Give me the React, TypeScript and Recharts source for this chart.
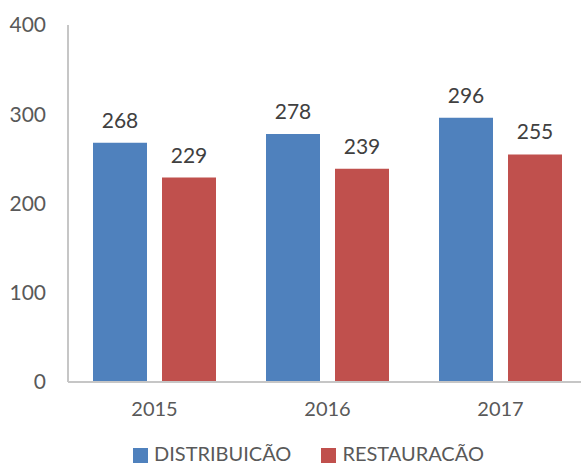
import { BarChart, Bar, XAxis, YAxis, Legend, LabelList } from 'recharts'

const anos = ['2015', '2016', '2017']
const distribuicao = [268, 278, 296]
const restauracao = [229, 239, 255]
const yTicks = [0, 100, 200, 300, 400]

const data = anos.map((ano, i) => ({
  ano,
  distribuicao: distribuicao[i],
  restauracao: restauracao[i],
}))

const FONT = 'Lato, "Open Sans", sans-serif'

export default function App() {
  return (
    <div style={{ position: 'absolute', left: 0, top: 0, width: 581, height: 466, background: '#fff', fontFamily: FONT, overflow: 'hidden' }}>
      <BarChart
        width={581}
        height={466}
        data={data}
        margin={{ top: 25, right: -6, left: 0, bottom: 0 }}
        barGap={15}
        barCategoryGap="14%"
        style={{ overflow: 'visible' }}
      >
        <XAxis
          dataKey="ano"
          axisLine={{ stroke: '#c6c6c6', strokeWidth: 2 }}
          tickLine={false}
          tickSize={0}
          tickMargin={20}
          height={52}
          tick={{ fill: '#595959', fontSize: 20, fontFamily: FONT }}
        />
        <YAxis
          domain={[0, 400]}
          ticks={yTicks}
          width={68}
          axisLine={{ stroke: '#c6c6c6', strokeWidth: 2 }}
          tickLine={false}
          tickSize={0}
          tickMargin={22}
          tick={{ fill: '#595959', fontSize: 21, fontFamily: FONT }}
        />
        <Legend
          verticalAlign="bottom"
          align="center"
          iconType="square"
          iconSize={15}
          height={32}
          wrapperStyle={{ fontSize: 20, lineHeight: '22px', fontFamily: FONT, top: 442, left: 133, width: 'auto' }}
          formatter={(v) => <span style={{ color: '#595959', marginLeft: 2, marginRight: 20 }}>{v}</span>}
        />
        <Bar dataKey="distribuicao" name="DISTRIBUICÃO" fill="#4f81bd" barSize={54} isAnimationActive={false}>
          <LabelList dataKey="distribuicao" position="top" offset={15} fill="#404040" fontSize={21} fontFamily={FONT} />
        </Bar>
        <Bar dataKey="restauracao" name="RESTAURACÃO" fill="#c0504d" barSize={54} isAnimationActive={false}>
          <LabelList dataKey="restauracao" position="top" offset={15} fill="#404040" fontSize={21} fontFamily={FONT} />
        </Bar>
      </BarChart>
    </div>
  )
}
